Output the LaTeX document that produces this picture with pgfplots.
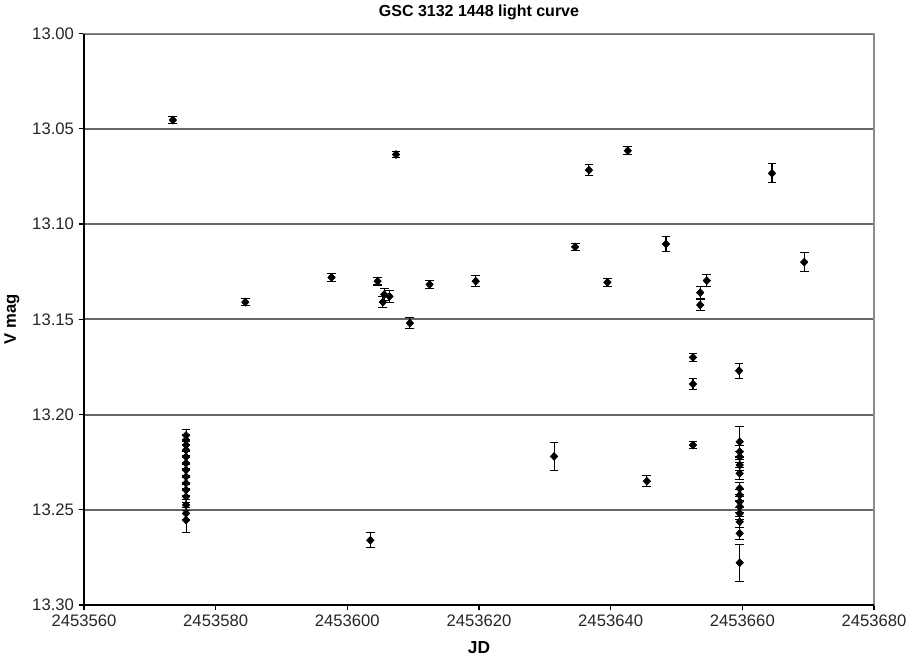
\documentclass[border=0pt]{standalone}
\usepackage{fontspec}
\setmainfont{Liberation Sans}
\usepackage{pgfplots}
\usepackage{pgfplotstable}
\pgfplotsset{compat=1.18}

% x = JD - 2453560 (days), y = V mag, e = error
\pgfplotstableread{
x     y       e
13.5  13.0454 0.002
15.5  13.2110 0.003
15.5  13.2134 0.003
15.5  13.2160 0.003
15.5  13.2186 0.003
15.5  13.2222 0.003
15.5  13.2256 0.003
15.5  13.2291 0.003
15.5  13.2326 0.003
15.5  13.2361 0.003
15.5  13.2396 0.003
15.5  13.2431 0.003
15.5  13.2475 0.003
15.5  13.2519 0.003
15.5  13.2554 0.0065
24.5  13.1410 0.002
37.6  13.1280 0.002
43.5  13.2660 0.004
44.6  13.1300 0.002
45.4  13.1410 0.003
45.6  13.1370 0.003
46.4  13.1380 0.003
47.4  13.0635 0.0015
49.5  13.1520 0.003
52.5  13.1317 0.002
59.5  13.1300 0.003
71.4  13.2220 0.0074
74.6  13.1120 0.002
76.7  13.0717 0.003
79.5  13.1306 0.002
82.6  13.0615 0.002
85.5  13.2350 0.003
88.4  13.1105 0.004
92.5  13.1700 0.002
92.5  13.1840 0.003
92.5  13.2160 0.002
93.6  13.1360 0.003
93.6  13.1425 0.003
94.6  13.1297 0.003
99.5  13.1770 0.004
99.6  13.2143 0.008
99.6  13.2195 0.003
99.6  13.2222 0.003
99.6  13.2265 0.003
99.6  13.2309 0.003
99.6  13.2388 0.003
99.6  13.2423 0.003
99.6  13.2458 0.003
99.6  13.2484 0.003
99.6  13.2519 0.003
99.6  13.2563 0.003
99.6  13.2624 0.003
99.6  13.2778 0.0097
104.5 13.0734 0.005
109.4 13.1200 0.005
}\lightcurve

\begin{document}
\begin{tikzpicture}
\begin{axis}[
  scale only axis,
  width=592.5pt, height=428.6pt,
  xmin=0, xmax=120,
  ymin=13.0, ymax=13.3,
  y dir=reverse,
  xtick={0,20,40,60,80,100,120},
  xticklabels={2453560,2453580,2453600,2453620,2453640,2453660,2453680},
  ytick={13.00,13.05,13.10,13.15,13.20,13.25,13.30},
  yticklabel style={/pgf/number format/.cd, fixed, fixed zerofill, precision=2},
  /pgf/number format/assume math mode=true,
  ticklabel style={font=\fontsize{12.5}{14}\selectfont, text=black!85},
  ymajorgrids=true,
  grid style={line width=1.5pt, color=black!60},
  axis line style={black!45, line width=0.8pt},
  tick align=outside,
  xtick pos=bottom, ytick pos=left,
  major tick length=4pt,
  tick style={black, line width=0.8pt},
  every axis title shift=0pt,
  title={GSC 3132 1448 light curve},
  title style={font=\bfseries\fontsize{12}{14}\selectfont, at={(axis description cs:0.5,1.0376)}, anchor=center},
  xlabel={JD},
  xlabel style={font=\bfseries\fontsize{13}{15}\selectfont, at={(axis description cs:0.5,-0.0747)}, anchor=center},
  ylabel={V mag},
  ylabel style={font=\bfseries\fontsize{12.5}{14}\selectfont, at={(axis description cs:-0.0911,0.5)}, anchor=center},
  clip=false,
]
\addplot[only marks, black, mark=diamond*, mark size=3pt,
  mark options={xscale=1.25},
  error bars/.cd, y dir=both, y explicit,
  error bar style={black, line width=0.8pt},
  error mark options={rotate=90, mark size=3.3pt, black, line width=0.8pt}]
  table[x=x, y=y, y error=e] {\lightcurve};
\draw[black, line width=0.9pt] (rel axis cs:0,1) -- (rel axis cs:0,0) -- (rel axis cs:1,0);
\coordinate (sw) at (rel axis cs:0,0);
\end{axis}
\pgfresetboundingbox
\path (sw) ++(-63pt,-39.75pt) rectangle ++(687pt,493.5pt);
\end{tikzpicture}
\end{document}
